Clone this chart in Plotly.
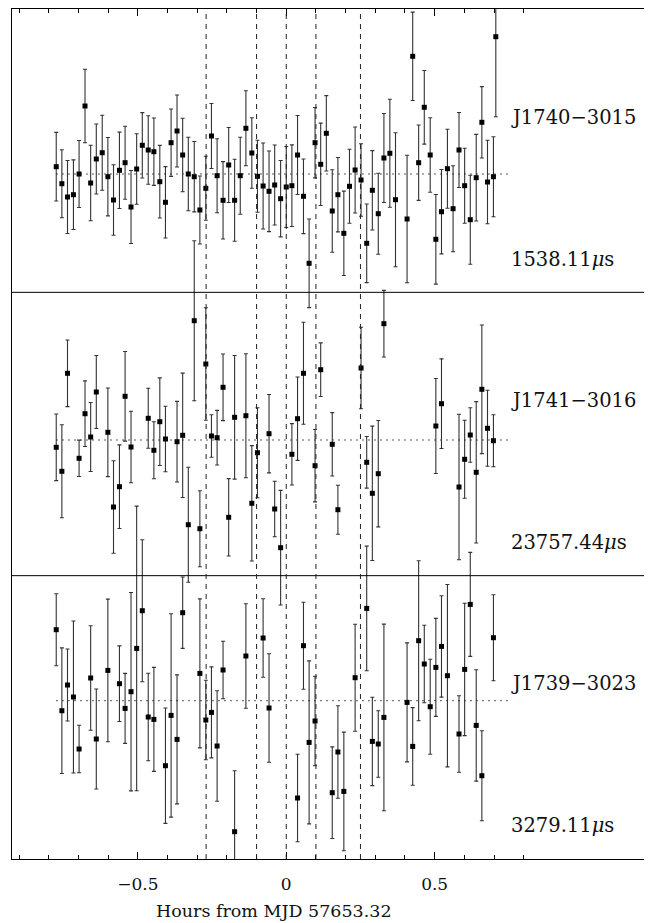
import plotly.graph_objects as go

# ---------------- data (hours from MJD 57653.32, residuals in arbitrary units) -------------
x_j1740 = [-0.775, -0.756, -0.737, -0.717, -0.698, -0.678, -0.659, -0.640, -0.620, -0.601,
           -0.582, -0.562, -0.543, -0.523, -0.504, -0.485, -0.465, -0.446, -0.426, -0.407,
           -0.388, -0.368, -0.349, -0.330, -0.310, -0.291, -0.271, -0.252, -0.233, -0.213,
           -0.194, -0.174, -0.155, -0.136, -0.116, -0.097, -0.078, -0.058, -0.039, -0.019,
           0.000, 0.019, 0.038, 0.058, 0.077, 0.097, 0.116, 0.135, 0.155, 0.174,
           0.194, 0.213, 0.232, 0.252, 0.271, 0.290, 0.310, 0.329, 0.349, 0.368,
           0.407, 0.426, 0.446, 0.465, 0.485, 0.504, 0.523, 0.543, 0.562, 0.582,
           0.601, 0.620, 0.640, 0.659, 0.678, 0.698, 0.706]
res_j1740 = [0.73, -0.97, -2.30, -2.07, 0.00, 6.80, -0.90, 1.50, 2.13, -0.27,
             -2.60, 0.37, 1.13, -3.30, 0.50, 2.87, 2.40, 2.23, -0.77, -2.83,
             3.13, 4.30, 1.90, 0.00, -0.27, -3.60, -1.43, 3.80, -0.17, -2.63,
             0.90, -2.63, -0.17, 4.57, 2.10, -0.23, -1.20, -1.73, -1.10, -2.47,
             -1.30, -1.17, 1.90, -2.23, -8.93, 3.13, 0.97, 4.07, -3.70, -2.07,
             -5.93, -1.23, 0.40, -0.60, -6.93, -1.63, -3.97, 1.60, 2.07, -2.57,
             -4.50, 11.77, 1.13, 6.67, 1.90, -6.53, -3.77, 0.53, -3.47, 2.40,
             -1.17, -4.57, -0.37, 5.17, -0.80, -0.27, 13.73]
err_j1740 = [3.43, 3.40, 3.65, 3.48, 3.35, 3.68, 3.77, 3.50, 3.75, 3.92,
             3.52, 3.82, 3.65, 3.65, 3.52, 3.27, 3.43, 3.37, 3.63, 3.57,
             3.37, 3.60, 3.67, 3.67, 3.52, 3.40, 3.20, 3.25, 3.70, 3.87,
             3.75, 4.10, 3.85, 3.75, 3.53, 3.60, 4.30, 4.03, 4.00, 3.82,
             4.05, 4.08, 3.95, 3.73, 4.43, 3.52, 4.12, 3.77, 4.12, 3.72,
             4.22, 3.70, 4.30, 3.63, 3.93, 3.97, 4.05, 4.45, 5.40, 6.70,
             6.37, 4.42, 3.77, 3.68, 3.73, 4.48, 4.22, 3.95, 4.30, 3.75,
             3.75, 4.45, 4.33, 3.57, 4.17, 4.00, 8.00]

x_j1741 = [-0.775, -0.756, -0.737, -0.698, -0.678, -0.659, -0.640, -0.601, -0.582, -0.562,
           -0.543, -0.523, -0.465, -0.446, -0.426, -0.407, -0.368, -0.349, -0.330, -0.310,
           -0.291, -0.271, -0.252, -0.233, -0.213, -0.194, -0.174, -0.136, -0.116, -0.097,
           -0.058, -0.039, -0.019, 0.019, 0.038, 0.058, 0.097, 0.116, 0.155, 0.174,
           0.252, 0.271, 0.290, 0.310, 0.329, 0.504, 0.523, 0.582, 0.601, 0.620,
           0.640, 0.659, 0.678, 0.698]
res_j1741 = [-0.73, -3.13, 6.67, -1.83, 2.63, 0.30, 4.80, 0.77, -6.70, -4.67,
             4.37, -0.70, 2.17, -1.03, 1.83, 0.10, -0.17, 0.47, -8.47, 11.93,
             -8.87, 7.60, 0.40, 0.23, 5.27, -7.73, 2.27, 2.43, -6.33, -1.27,
             0.63, -6.90, -10.77, -1.43, 2.13, 6.67, -2.57, 7.03, -0.43, -6.97,
             7.20, -2.23, -5.33, -3.37, 11.63, 1.40, 3.63, -4.70, -1.93, 0.50,
             -3.23, 5.07, 1.17, -0.07]
err_j1741 = [3.33, 4.65, 3.33, 1.82, 3.28, 3.45, 3.65, 4.43, 4.62, 4.18,
             4.48, 3.58, 3.00, 2.85, 4.38, 3.27, 4.03, 6.22, 5.75, 8.00,
             3.80, 5.62, 2.13, 2.73, 3.33, 3.87, 6.18, 6.20, 5.77, 4.50,
             3.92, 2.77, 5.73, 3.07, 4.17, 5.10, 3.62, 2.68, 3.17, 2.45,
             4.08, 2.58, 6.72, 5.32, 3.33, 4.75, 4.48, 7.28, 3.90, 2.73,
             7.07, 6.43, 3.80, 2.60]

x_j1739 = [-0.775, -0.756, -0.737, -0.717, -0.698, -0.659, -0.640, -0.601, -0.562, -0.543,
           -0.523, -0.504, -0.485, -0.465, -0.446, -0.407, -0.388, -0.368, -0.349, -0.291,
           -0.271, -0.252, -0.233, -0.213, -0.174, -0.136, -0.078, -0.058, 0.038, 0.058,
           0.077, 0.097, 0.155, 0.174, 0.194, 0.232, 0.271, 0.290, 0.310, 0.329,
           0.407, 0.426, 0.446, 0.465, 0.485, 0.504, 0.523, 0.543, 0.582, 0.601,
           0.620, 0.640, 0.659, 0.698]
res_j1739 = [7.10, -1.00, 1.57, 0.37, -4.83, 2.27, -3.83, 3.03, 1.70, -0.77,
             0.90, 5.23, 9.00, -1.63, -1.87, -6.50, -1.47, -3.87, 8.80, 2.73,
             -1.93, -1.17, -4.53, 3.07, -13.10, 4.47, 6.27, -0.73, -9.73, 5.50,
             -4.17, -2.03, -9.20, -5.13, -9.07, 2.30, 9.23, -4.07, -4.33, -1.67,
             -0.17, -4.57, 6.00, 3.67, -0.60, 3.33, 5.43, 2.50, -3.33, 3.13,
             9.63, -2.47, -7.50, 6.30]
err_j1739 = [3.60, 6.28, 3.60, 7.60, 2.37, 5.22, 5.00, 7.13, 3.78, 3.50,
             9.92, 14.23, 7.10, 4.37, 5.20, 5.77, 10.17, 6.45, 3.57, 7.45,
             3.97, 4.55, 5.52, 2.88, 6.10, 5.22, 3.93, 5.43, 4.37, 4.35,
             8.15, 4.48, 4.58, 4.62, 5.93, 5.35, 6.23, 4.42, 3.32, 9.33,
             5.95, 3.88, 8.00, 3.88, 4.75, 4.90, 5.07, 9.12, 3.83, 6.62,
             5.20, 5.57, 4.50, 4.30]

names = ["J1740\u22123015", "J1741\u22123016", "J1739\u22123023"]
periods = ["1538.11<i>\u03bc</i>s", "23757.44<i>\u03bc</i>s", "3279.11<i>\u03bc</i>s"]
event_lines = [-0.27, -0.10, 0.0, 0.10, 0.25]
tick_vals = [-0.5, 0.0, 0.5]
tick_text = ["\u22120.5", "0", "0.5"]
minor_vals = [-0.9, -0.8, -0.7, -0.6, -0.4, -0.3, -0.2, -0.1, 0.1, 0.2, 0.3, 0.4, 0.6, 0.7, 0.8]

# ---------------- layout constants -------------
Y_TOP = 85.0                       # full stacked height (three equal panels)
panel_h = Y_TOP / 3.0
zero_levels = [68.5, 41.9, 15.83]  # baseline of each panel in stacked coordinates
zero_x0, zero_x1 = -0.775, 0.75
FONT = "DejaVu Serif"
TXT = "#111111"

fig = go.Figure()
series = [(x_j1740, res_j1740, err_j1740),
          (x_j1741, res_j1741, err_j1741),
          (x_j1739, res_j1739, err_j1739)]
for (xs, ys, es), z0 in zip(series, zero_levels):
    fig.add_trace(go.Scatter(
        x=xs, y=[v + z0 for v in ys], mode="markers",
        marker=dict(symbol="square", size=5, color="black", line=dict(width=0)),
        error_y=dict(type="data", array=es, symmetric=True, color="#333333",
                     thickness=1.1, width=2),
        showlegend=False, hoverinfo="skip"))

shapes = []
for z0 in zero_levels:
    shapes.append(dict(type="line", xref="x", yref="y", x0=zero_x0, x1=zero_x1, y0=z0, y1=z0,
                       line=dict(color="#222", width=1, dash="1.5px,4.5px")))
for k in (1, 2):
    shapes.append(dict(type="line", xref="paper", yref="y", x0=0, x1=1,
                       y0=k * panel_h, y1=k * panel_h, line=dict(color="black", width=1)))
for xv in event_lines:
    shapes.append(dict(type="line", xref="x", yref="paper", x0=xv, x1=xv, y0=0, y1=1,
                       line=dict(color="#222", width=1, dash="5px,5px")))

annotations = []
for i in range(3):
    top = 1.0 - i / 3.0
    annotations.append(dict(xref="x", yref="paper", x=0.75, y=top - 108 / 850,
                            text=names[i], showarrow=False, xanchor="left", yanchor="middle",
                            font=dict(family=FONT, size=19.5, color=TXT)))
    annotations.append(dict(xref="x", yref="paper", x=0.75, y=top - 250 / 850,
                            text=periods[i], showarrow=False, xanchor="left", yanchor="middle",
                            font=dict(family=FONT, size=19.5, color=TXT)))
annotations.append(dict(xref="paper", yref="paper", x=0.414, y=-0.0612,
                        text="Hours from MJD 57653.32", showarrow=False,
                        xanchor="center", yanchor="middle",
                        font=dict(family=FONT, size=17.5, color=TXT)))

# the page body has an 8px margin, so the figure is sized to fit the remaining window
fig.update_layout(
    width=644, height=915,
    margin=dict(l=4, r=6, t=1, b=64),
    paper_bgcolor="white", plot_bgcolor="white",
    shapes=shapes, annotations=annotations,
    xaxis=dict(range=[-0.924, 1.212], showgrid=False, zeroline=False,
               showline=True, linecolor="black", linewidth=1, mirror="ticks",
               ticks="inside", ticklen=7, tickcolor="black", tickwidth=1,
               tickmode="array", tickvals=tick_vals, ticktext=tick_text,
               ticklabelstandoff=10,
               tickfont=dict(family=FONT, size=17, color=TXT),
               minor=dict(tickmode="array", tickvals=minor_vals, ticks="inside",
                          ticklen=4, tickcolor="black", tickwidth=1, showgrid=False)),
    yaxis=dict(range=[0, Y_TOP], showgrid=False, zeroline=False, showticklabels=False,
               ticks="", showline=True, linecolor="black", linewidth=1, mirror=True),
)

fig.write_html("out.html")
